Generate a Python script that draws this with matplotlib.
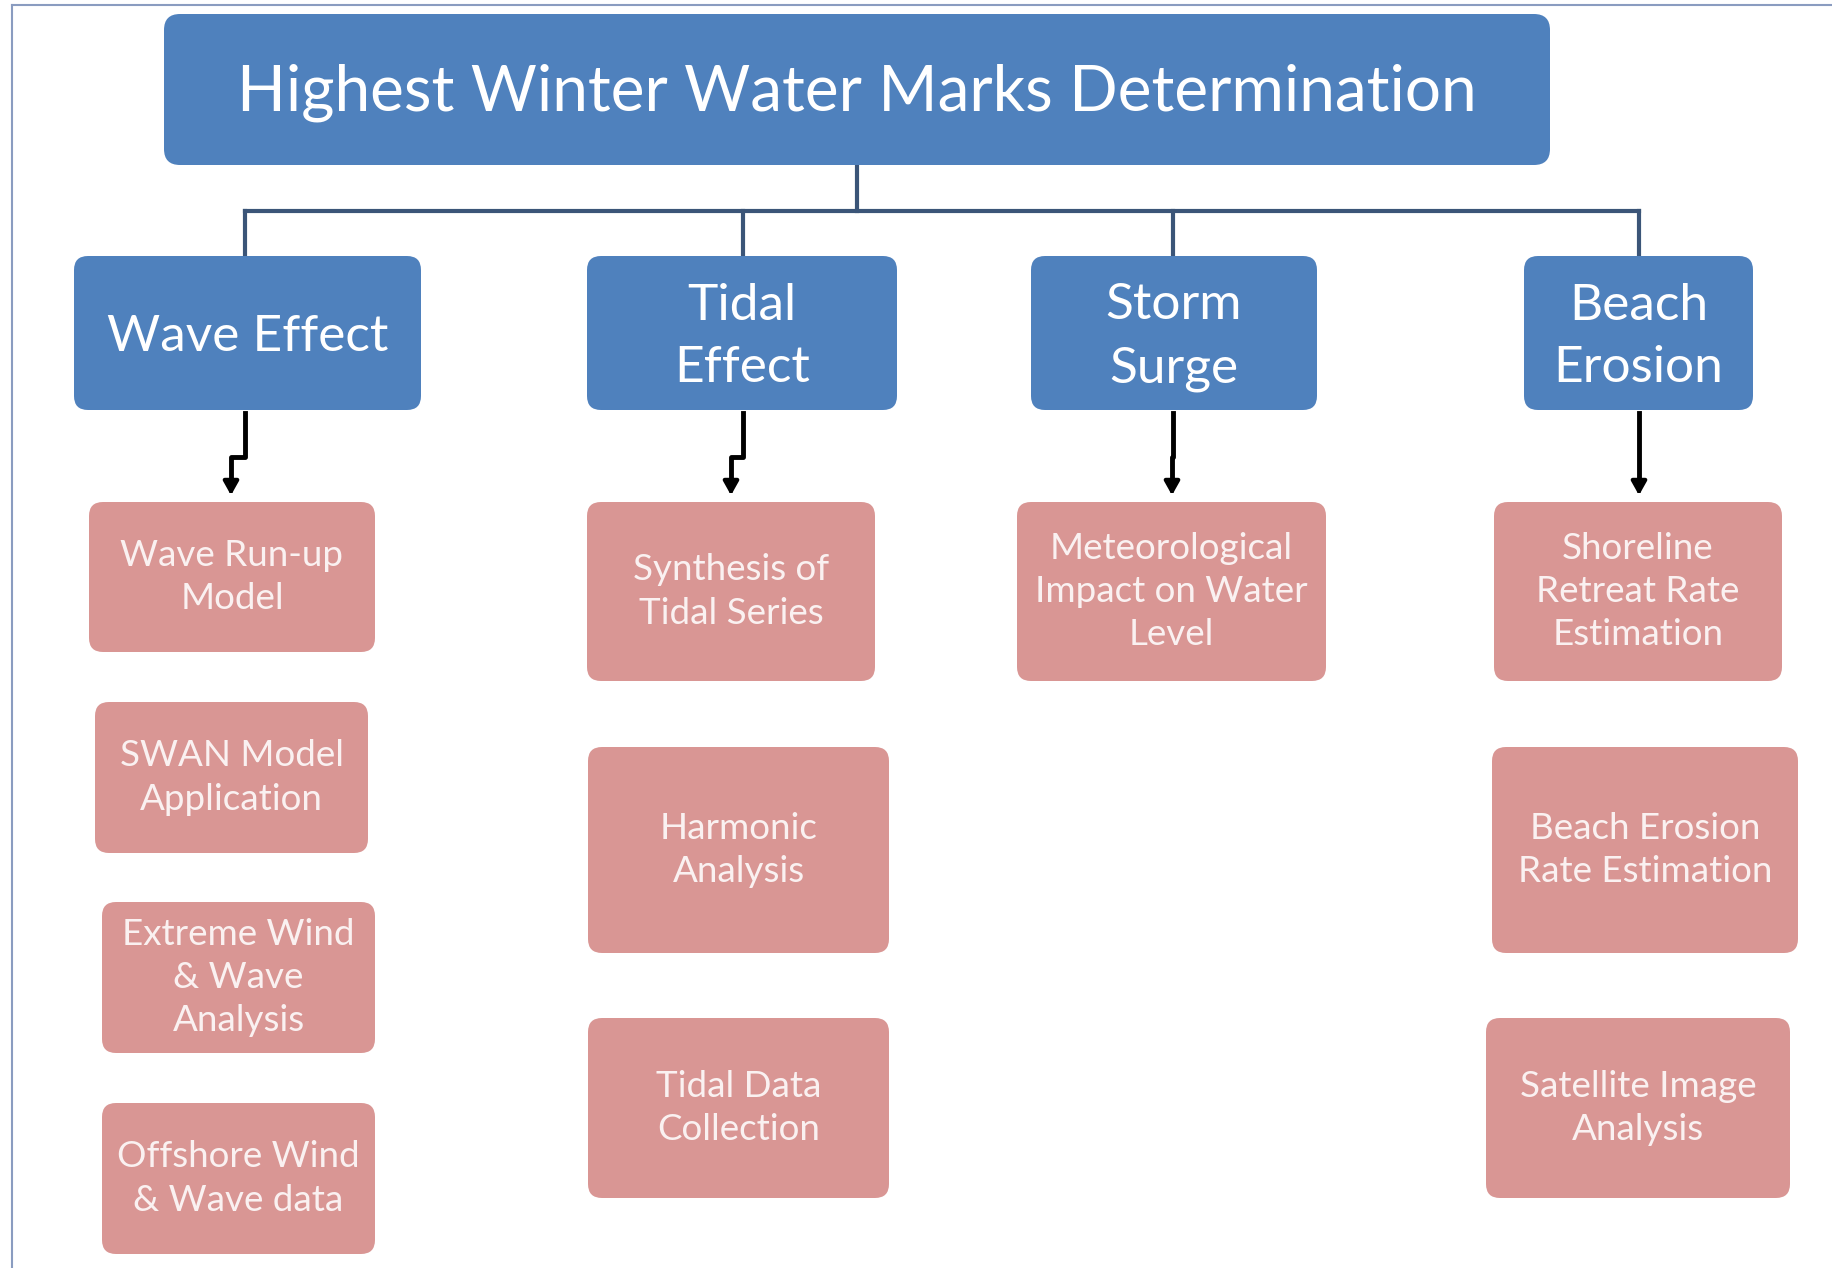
import matplotlib.pyplot as plt
from matplotlib.patches import FancyBboxPatch

plt.rcParams['font.family'] = ['Lato', 'DejaVu Sans']

# content
title = "Highest Winter Water Marks Determination"
categories = ["Wave Effect", "Tidal\nEffect", "Storm\nSurge", "Beach\nErosion"]
sub_items = [
    ["Wave Run-up\nModel", "SWAN Model\nApplication", "Extreme Wind\n& Wave\nAnalysis", "Offshore Wind\n& Wave data"],
    ["Synthesis of\nTidal Series", "Harmonic\nAnalysis", "Tidal Data\nCollection"],
    ["Meteorological\nImpact on Water\nLevel"],
    ["Shoreline\nRetreat Rate\nEstimation", "Beach Erosion\nRate Estimation", "Satellite Image\nAnalysis"],
]

# layout (pixels, y down)
title_box = (164, 14, 1550, 165)
cat_x = [(74, 421), (587, 897), (1031, 1317), (1524, 1753)]
cat_y = (256, 410)
bus_y = 211
drop_x = [245, 743, 1173, 1639]
sub_boxes = [
    [(89, 502, 375, 652), (95, 702, 368, 853), (102, 902, 375, 1053), (102, 1103, 375, 1254)],
    [(587, 502, 875, 681), (588, 747, 889, 953), (588, 1018, 889, 1198)],
    [(1017, 502, 1326, 681)],
    [(1494, 502, 1782, 681), (1492, 747, 1798, 953), (1486, 1018, 1790, 1198)],
]
arrow_top = 413
arrow_jog_y = 457
arrow_end = 498
arrow_jog_x = [231, 731, 1172, 1639]

blue = '#4f81bd'
pink = '#d99694'
line_col = '#3b5578'

fig = plt.figure(figsize=(18.32, 12.68), dpi=100)
ax = fig.add_axes([0, 0, 1, 1])
ax.set_xlim(0, 1832)
ax.set_ylim(1268, 0)
ax.axis('off')

# frame
ax.plot([12, 12], [5, 1268], color='#8a9cc0', lw=1.5)
ax.plot([12, 1832], [5, 5], color='#8a9cc0', lw=1.5)


def box(x0, y0, x1, y1, color, r=14):
    p = FancyBboxPatch((x0, y0), x1 - x0, y1 - y0,
                       boxstyle="round,pad=0,rounding_size=%d" % r,
                       fc=color, ec='none', zorder=2)
    ax.add_patch(p)


# title
x0, y0, x1, y1 = title_box
box(x0, y0, x1, y1, blue, 16)
ax.text((x0 + x1) / 2, (y0 + y1) / 2 + 3, title, color='white', fontsize=46,
        ha='center', va='center', zorder=3)

# connectors
mid = (x0 + x1) / 2
ax.plot([mid, mid], [y1, bus_y], color=line_col, lw=3, zorder=1)
ax.plot([drop_x[0], drop_x[-1]], [bus_y, bus_y], color=line_col, lw=3, zorder=1,
        solid_capstyle='projecting')
for dx in drop_x:
    ax.plot([dx, dx], [bus_y, cat_y[0]], color=line_col, lw=3, zorder=1)

# category boxes
for (cx0, cx1), name in zip(cat_x, categories):
    box(cx0, cat_y[0], cx1, cat_y[1], blue, 14)
    ax.text((cx0 + cx1) / 2, (cat_y[0] + cat_y[1]) / 2 + 4, name, color='white',
            fontsize=37, ha='center', va='center', linespacing=1.45, zorder=3)

# arrows
for dx, jx in zip(drop_x, arrow_jog_x):
    ax.plot([dx, dx, jx, jx], [arrow_top, arrow_jog_y, arrow_jog_y, arrow_end - 12],
            color='black', lw=3.5, zorder=1)
    ax.annotate('', xy=(jx, arrow_end), xytext=(jx, arrow_end - 14),
                arrowprops=dict(arrowstyle='-|>,head_length=0.8,head_width=0.45',
                                color='black', lw=3))

# sub boxes
for col in range(len(sub_items)):
    for (bx0, by0, bx1, by1), name in zip(sub_boxes[col], sub_items[col]):
        box(bx0, by0, bx1, by1, pink, 14)
        ax.text((bx0 + bx1) / 2, (by0 + by1) / 2, name, color='#faf1f1',
                fontsize=26.5, ha='center', va='center', linespacing=1.38, zorder=3)

fig.savefig('out.png', dpi=100, facecolor='white')
